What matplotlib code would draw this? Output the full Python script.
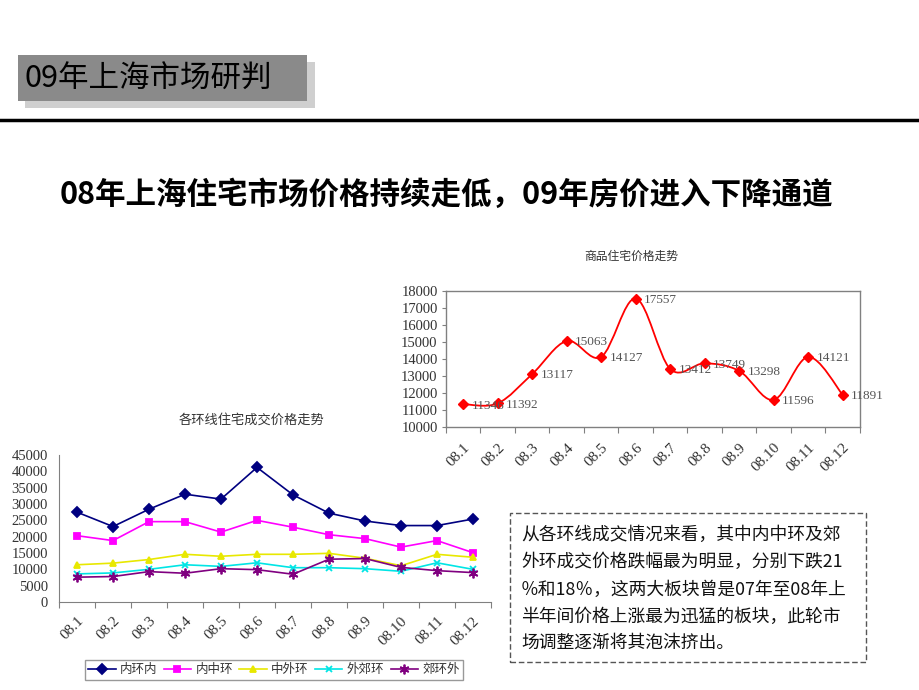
import numpy as np
import matplotlib
matplotlib.use('Agg')
import matplotlib.pyplot as plt
from matplotlib.patches import Rectangle
from matplotlib.path import Path
from matplotlib.patches import PathPatch

plt.rcParams['font.family'] = ['Noto Sans CJK SC', 'DejaVu Sans']

# data
months = ['08.1', '08.2', '08.3', '08.4', '08.5', '08.6',
          '08.7', '08.8', '08.9', '08.10', '08.11', '08.12']

# 商品住宅价格走势
avg_price = [11346, 11392, 13117, 15063, 14127, 17557,
             13412, 13749, 13298, 11596, 14121, 11891]

# 各环线住宅成交价格走势
ring_names = ['内环内', '内中环', '中外环', '外郊环', '郊环外']
inner = [27500, 23100, 28400, 33000, 31500, 41200, 32800, 27200, 24800, 23400, 23400, 25400]
inner_mid = [20300, 18800, 24600, 24600, 21400, 25000, 22900, 20600, 19400, 16800, 18800, 15100]
mid_outer = [11400, 11900, 13000, 14600, 14000, 14600, 14600, 14900, 13400, 11100, 14600, 13700]
outer_sub = [8600, 8900, 10000, 11400, 10900, 12000, 10500, 10500, 10200, 9400, 12000, 10000]
suburb = [7600, 7800, 9300, 8800, 10200, 9900, 8500, 13100, 13300, 10600, 9600, 9000]

ring_series = [inner, inner_mid, mid_outer, outer_sub, suburb]
ring_colors = ['#000080', '#FF00FF', '#E8E800', '#00E5E5', '#800080']
ring_markers = ['D', 's', '^', 'x', (6, 2, 0)]

note_lines = ['从各环线成交情况来看，其中内中环及郊',
              '外环成交价格跌幅最为明显，分别下跌21',
              '％和18％，这两大板块曾是07年至08年上',
              '半年间价格上涨最为迅猛的板块，此轮市',
              '场调整逐渐将其泡沫挤出。']

W, H = 920, 690
fig = plt.figure(figsize=(9.2, 6.9), dpi=100)


def fx(px):
    return px / W


def fy(py):
    return 1 - py / H


# header box with shadow
fig.patches.append(Rectangle((fx(25), fy(108)), fx(290), (101 - 55) / H,
                             transform=fig.transFigure, facecolor='#cfcfcf',
                             edgecolor='none', zorder=1))
fig.patches.append(Rectangle((fx(18), fy(101)), fx(289), (101 - 55) / H,
                             transform=fig.transFigure, facecolor='#8a8a8a',
                             edgecolor='none', zorder=2))
fig.text(fx(25), fy(79), '09年上海市场研判', fontsize=22, color='black',
         ha='left', va='center', zorder=3)
fig.lines.append(plt.Line2D([0, 1], [fy(120), fy(120)], transform=fig.transFigure,
                            color='black', lw=2.5))

fig.text(fx(446), fy(195), '08年上海住宅市场价格持续走低，09年房价进入下降通道',
         fontsize=22, fontweight='bold', ha='center', va='center')

serif = ['Liberation Serif', 'DejaVu Serif']
x = np.arange(len(months))

# left chart (transparent, so the right chart's labels show over it)
ax1 = fig.add_axes([fx(59), fy(602), fx(491 - 59), (602 - 455) / H])
ax1.patch.set_visible(False)
ax1.set_xlim(-0.5, 11.5)
ax1.set_ylim(0, 45000)
ax1.set_yticks(np.arange(0, 45001, 5000))
ax1.set_xticks(np.arange(-0.5, 12, 1))
ax1.set_xticklabels([])
ax1.set_xticks(x, minor=True)
ax1.set_xticklabels(months, minor=True, rotation=45, ha='right',
                    rotation_mode='anchor', family=serif, fontsize=11, color='#333333')
ax1.tick_params(axis='x', which='minor', length=0, pad=9)
ax1.tick_params(axis='x', which='major', length=4, color='#808080', direction='out')
ax1.tick_params(axis='y', length=0, pad=8)
for lab in ax1.get_yticklabels():
    lab.set_family(serif)
    lab.set_fontsize(10.5)
    lab.set_color('#333333')
for side in ['top', 'right']:
    ax1.spines[side].set_visible(False)
for side in ['left', 'bottom']:
    ax1.spines[side].set_color('#808080')

handles = []
for name, vals, c, m in zip(ring_names, ring_series, ring_colors, ring_markers):
    ms = 7 if isinstance(m, tuple) else 5
    h, = ax1.plot(x, vals, color=c, lw=1.2, marker=m, markersize=ms,
                  markerfacecolor=c, markeredgecolor=c, markeredgewidth=1.3, label=name)
    handles.append(h)
fig.text(fx(252), fy(420), '各环线住宅成交价格走势', fontsize=9.5, color='#333333',
         ha='center', va='center')

# right chart
ax2 = fig.add_axes([fx(446), fy(427), fx(860 - 446), (427 - 291) / H])
ax2.set_xlim(-0.5, 11.5)
ax2.set_ylim(10000, 18000)
ax2.set_yticks(np.arange(10000, 18001, 1000))
ax2.set_xticks(np.arange(-0.5, 12, 1))
ax2.set_xticklabels([])
ax2.set_xticks(x, minor=True)
ax2.set_xticklabels(months, minor=True, rotation=45, ha='right',
                    rotation_mode='anchor', family=serif, fontsize=11, color='#333333')
ax2.tick_params(axis='x', which='minor', length=0, pad=10)
ax2.tick_params(axis='x', which='major', length=4, color='#808080', direction='out')
ax2.tick_params(axis='y', length=3, color='#808080', pad=3)
for lab in ax2.get_yticklabels():
    lab.set_family(serif)
    lab.set_fontsize(10.5)
    lab.set_color('#333333')
for s in ax2.spines.values():
    s.set_color('#808080')
    s.set_linewidth(1.0)

# smooth line (Catmull-Rom as cubic Bezier)
pts = np.column_stack([x, avg_price]).astype(float)
ext = np.vstack([pts[0], pts, pts[-1]])
verts = [tuple(pts[0])]
codes = [Path.MOVETO]
for i in range(len(pts) - 1):
    p0, p1, p2, p3 = ext[i], ext[i + 1], ext[i + 2], ext[i + 3]
    c1 = p1 + (p2 - p0) / 6
    c2 = p2 - (p3 - p1) / 6
    verts += [tuple(c1), tuple(c2), tuple(p2)]
    codes += [Path.CURVE4] * 3
ax2.add_patch(PathPatch(Path(verts, codes), facecolor='none', edgecolor='#FF0000', lw=1.3))
ax2.plot(x, avg_price, linestyle='none', marker='D', markersize=5,
         color='#FF0000', markeredgecolor='#FF0000')
for xi, v in zip(x, avg_price):
    ax2.annotate(str(v), (xi, v), xytext=(6, -1), textcoords='offset points',
                 ha='left', va='center', family=serif, fontsize=9.5, color='#555555')
fig.text(fx(631), fy(256), '商品住宅价格走势', fontsize=8.5, color='#333333',
         ha='center', va='center')

leg = fig.legend(handles=handles, loc='center', bbox_to_anchor=(fx(274), fy(670)),
                 ncol=5, fontsize=9, frameon=True, fancybox=False,
                 handlelength=2.2, handletextpad=0.35, columnspacing=0.5,
                 borderpad=0.25, labelcolor='#333333')
leg.get_frame().set_edgecolor('#808080')
leg.get_frame().set_linewidth(1.0)

# note box
fig.patches.append(Rectangle((fx(510), fy(662)), fx(866 - 510), (662 - 513) / H,
                             transform=fig.transFigure, facecolor='none',
                             edgecolor='#555555', lw=1.0, linestyle=(0, (4, 2))))
line_y = [535, 562, 590, 617, 643]
for ty, t in zip(line_y, note_lines):
    fig.text(fx(521), fy(ty), t, fontsize=12.8, color='#111111', ha='left', va='center')

fig.savefig('out.png', dpi=100)
